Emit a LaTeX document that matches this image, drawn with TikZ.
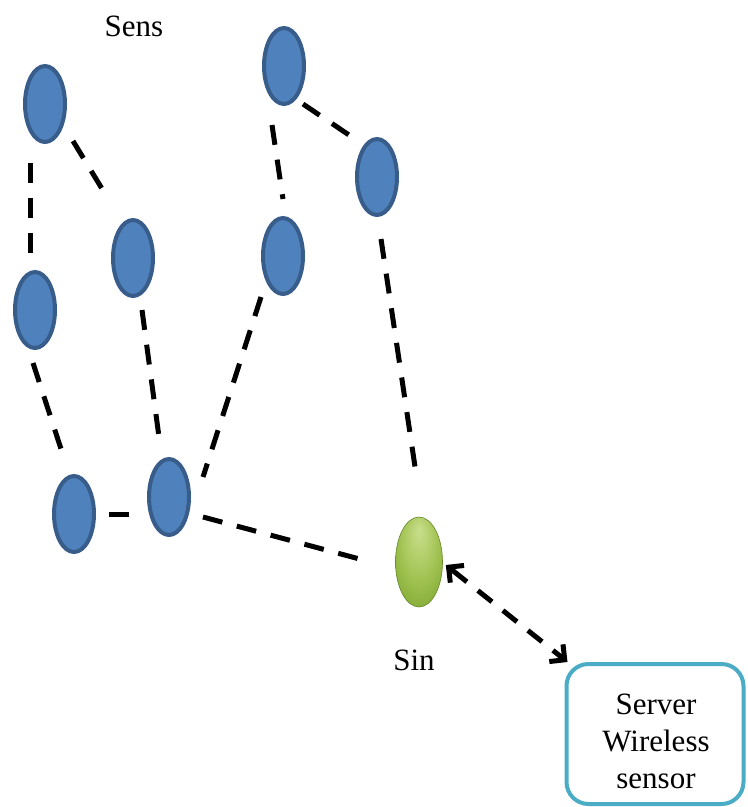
\documentclass[tikz,border=0pt]{standalone}
\usepackage{fontspec}
\setmainfont{Liberation Serif}
\usetikzlibrary{shapes.geometric,arrows.meta,calc}
\definecolor{nodefill}{HTML}{4F81BD}
\definecolor{nodeedge}{HTML}{385D8A}
\definecolor{sinkin}{HTML}{C9DF8C}
\definecolor{sinkmid}{HTML}{9EC04E}
\definecolor{sinkout}{HTML}{76A02C}
\definecolor{serveredge}{HTML}{4BACC6}
\pgfdeclareradialshading{sinkshade}{\pgfpoint{0bp}{18bp}}{color(0bp)=(sinkin); color(22bp)=(sinkmid); color(40bp)=(sinkout); color(50bp)=(sinkout)}
\begin{document}
\begin{tikzpicture}[x=1pt,y=-1pt,
  sensor/.style={ellipse,draw=nodeedge,fill=nodefill,line width=4pt,minimum width=40pt,minimum height=76pt,inner sep=0pt},
  sinknode/.style={ellipse,draw=sinkout!85!black,line width=0.6pt,shading=sinkshade,minimum width=47pt,minimum height=90pt,inner sep=0pt},
  serverbox/.style={draw=serveredge,line width=4pt,rounded corners=22pt,minimum width=177pt,minimum height=140pt,align=center},
  link/.style={draw=black,line width=5pt,dash pattern=on 20pt off 15pt},
  tip/.style={draw=black,line width=5pt,solid,-{Straight Barb[length=11pt,width=22pt]}},
  lbl/.style={font=\fontsize{31pt}{37pt}\selectfont,inner sep=0pt}]
\useasboundingbox (0,0) rectangle (748,807);
% sensors
\node[sensor] (A) at (45,104) {};
\node[sensor] (B) at (35,310) {};
\node[sensor] (C) at (133,258) {};
\node[sensor] (D) at (284,66) {};
\node[sensor] (E) at (377,177) {};
\node[sensor] (F) at (283,256) {};
\node[sensor] (G) at (74,514) {};
\node[sensor] (H) at (169,497) {};
\node[sinknode] (S) at (419,562) {};
\node[serverbox] (V) at (655,734) {};
\node[lbl,align=center] (vt) at (656,741) {Server\\Wireless\\sensor};
% labels
\node[lbl] (sens) at (134,26) {Sens};
\node[lbl] (sin) at (414,660) {Sin};
% links
\draw[link] ([shift={(-15,59)}]A.center) -- ([shift={(-5,-48)}]B.center);
\draw[link] ([shift={(28,37)}]A.center) -- ([shift={(-29,-66)}]C.center);
\draw[link] ([shift={(-2,53)}]B.center) -- ([shift={(-11,-59)}]G.center);
\draw[link] ([shift={(9,52)}]C.center) -- ([shift={(-10,-60)}]H.center);
\draw[link] ([shift={(-22,41)}]F.center) -- ([shift={(34,-20)}]H.center);
\draw[link] ([shift={(-12,59)}]D.center) -- ([shift={(0,-57)}]F.center);
\draw[link] ([shift={(19,38)}]D.center) -- ([shift={(-25,-40)}]E.center);
\draw[link] ([shift={(4,62)}]E.center) -- ([shift={(-2,-82)}]S.center);
\draw[link] ([shift={(35,0)}]G.center) -- ([shift={(-39,17)}]H.center);
\draw[link] ([shift={(34,20)}]H.center) -- ([shift={(-52,-1)}]S.center);
% double arrow sink <-> server
\coordinate (t1) at ([shift={(3,3)}]S.east);
\coordinate (t2) at ([shift={(3,0)}]V.north west);
\draw[link,dash pattern=on 18pt off 14pt] ($(t1)!9pt!(t2)$) -- ($(t2)!9pt!(t1)$);
\draw[tip] ($(t1)!10pt!(t2)$) -- (t1);
\draw[tip] ($(t2)!10pt!(t1)$) -- (t2);
\end{tikzpicture}
\end{document}
